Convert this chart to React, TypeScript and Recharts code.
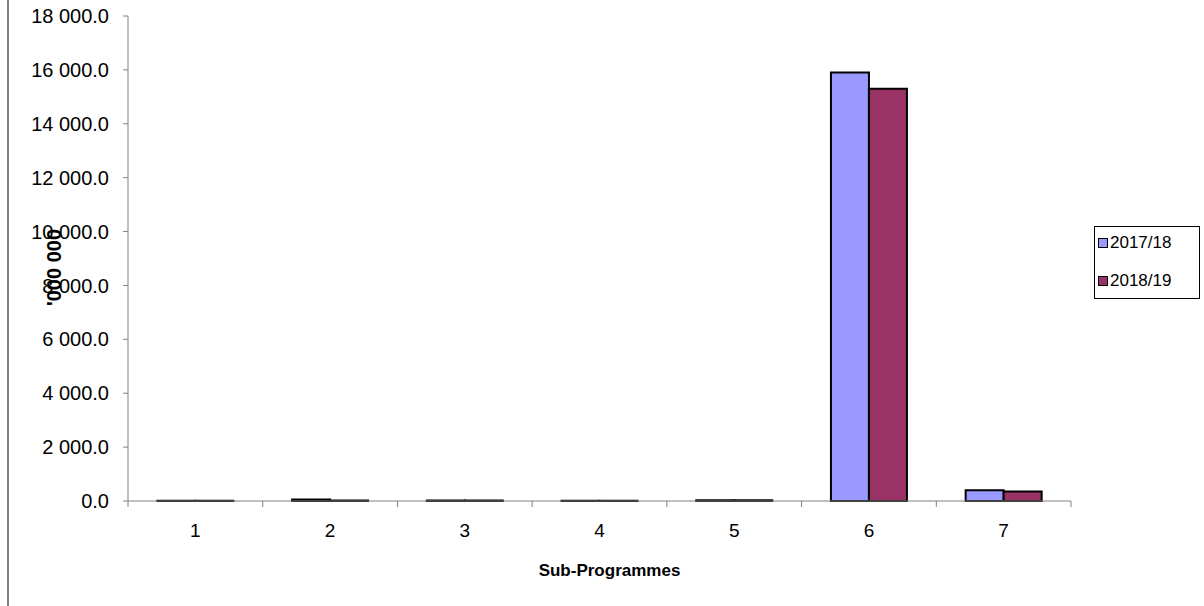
import { Bar, BarChart, Label, Legend, XAxis, YAxis } from "recharts"

const subProgrammes = ["1", "2", "3", "4", "5", "6", "7"]
const values201718 = [10, 60, 20, 5, 25, 15900, 400]
const values201819 = [10, 20, 20, 5, 25, 15300, 350]
const yTicks = [0, 2000, 4000, 6000, 8000, 10000, 12000, 14000, 16000, 18000]
const seriesNames = ["2017/18", "2018/19"]
const seriesColors = ["#9999FF", "#993366"]

const font = "'Liberation Sans', Arial, sans-serif"
const CHART_W = 1204
const CHART_H = 606
const LEGEND_W = 106
const PLOT_RIGHT_GAP = 133
// the legend adds its own width on the right, so take it off the margin
const margin = { top: 16, right: PLOT_RIGHT_GAP - LEGEND_W, bottom: 0, left: 0 }
const Y_AXIS_W = 128
// width of one category band, used to put the x tick marks between categories
const band = (CHART_W - PLOT_RIGHT_GAP - Y_AXIS_W) / subProgrammes.length

const chartData = subProgrammes.map((name, i) => ({
  name,
  a: values201718[i],
  b: values201819[i],
}))

const formatValue = (v: number) => v.toFixed(1).replace(/\B(?=(\d{3})+(?!\d))/g, " ")

function CategoryTick(props: any) {
  const { x, y, payload, index } = props
  const last = index === subProgrammes.length - 1
  return (
    <g>
      <line x1={x - band / 2} x2={x - band / 2} y1={y} y2={y + 6} stroke="#808080" />
      {last && <line x1={x + band / 2} x2={x + band / 2} y1={y} y2={y + 6} stroke="#808080" />}
      <text x={x} y={y + 36} textAnchor="middle" fill="#000" fontSize={19} fontFamily={font}>
        {payload.value}
      </text>
    </g>
  )
}

function LegendBox() {
  return (
    <div
      style={{
        border: "1px solid #000",
        background: "#fff",
        width: LEGEND_W,
        padding: "6px 0 8px 3px",
        boxSizing: "border-box",
        fontFamily: font,
        fontSize: 17,
        color: "#000",
      }}
    >
      {seriesNames.map((n, i) => (
        <div key={n} style={{ display: "flex", alignItems: "center", height: 19, marginBottom: i === 0 ? 19 : 0 }}>
          <span
            style={{
              display: "inline-block",
              width: 8,
              height: 8,
              background: seriesColors[i],
              border: "1.5px solid #000",
              marginRight: 2,
            }}
          />
          {n}
        </div>
      ))}
    </div>
  )
}

export default function App() {
  return (
    <div style={{ position: "absolute", left: 0, top: 0, width: CHART_W, height: CHART_H, background: "#fff" }}>
      <div style={{ position: "absolute", left: 7, top: 0, width: 2, height: CHART_H, background: "#808080" }} />
      <BarChart
        width={CHART_W}
        height={CHART_H}
        data={chartData}
        margin={margin}
        barCategoryGap="21.8%"
        barGap={0}
      >
        <XAxis
          dataKey="name"
          axisLine={{ stroke: "#808080", strokeWidth: 1 }}
          tickLine={false}
          tickSize={0}
          tickMargin={0}
          height={105}
          interval={0}
          tick={<CategoryTick />}
        >
          <Label
            value="Sub-Programmes"
            position="insideBottom"
            offset={30}
            dx={10}
            style={{ fill: "#000", fontSize: 17, fontWeight: "bold", fontFamily: font }}
          />
        </XAxis>
        <YAxis
          width={Y_AXIS_W}
          domain={[0, 18000]}
          ticks={yTicks}
          tickFormatter={formatValue}
          tickSize={5}
          tickMargin={14}
          stroke="#808080"
          fontSize={20}
          fontFamily={font}
          tick={{ fill: "#000", fontSize: 20, fontFamily: font }}
        >
          <Label
            content={(props: any) => {
              const vb = props.viewBox || { x: 0, y: 16, width: 128, height: 485 }
              const cx = 54
              const cy = vb.y + vb.height / 2 + 9
              return (
                <text
                  x={cx}
                  y={cy}
                  transform={`rotate(-90 ${cx} ${cy})`}
                  textAnchor="middle"
                  dominantBaseline="central"
                  style={{ fill: "#000", fontSize: 20, fontWeight: "bold", fontFamily: font }}
                >
                  '000 000
                </text>
              )
            }}
          />
        </YAxis>
        <Legend
          layout="vertical"
          align="right"
          verticalAlign="middle"
          wrapperStyle={{ left: 1094, top: 226, width: LEGEND_W }}
          content={() => <LegendBox />}
        />
        <Bar
          dataKey="a"
          name={seriesNames[0]}
          fill={seriesColors[0]}
          stroke="#000"
          strokeWidth={2}
          isAnimationActive={false}
        />
        <Bar
          dataKey="b"
          name={seriesNames[1]}
          fill={seriesColors[1]}
          stroke="#000"
          strokeWidth={2}
          isAnimationActive={false}
        />
      </BarChart>
    </div>
  )
}
